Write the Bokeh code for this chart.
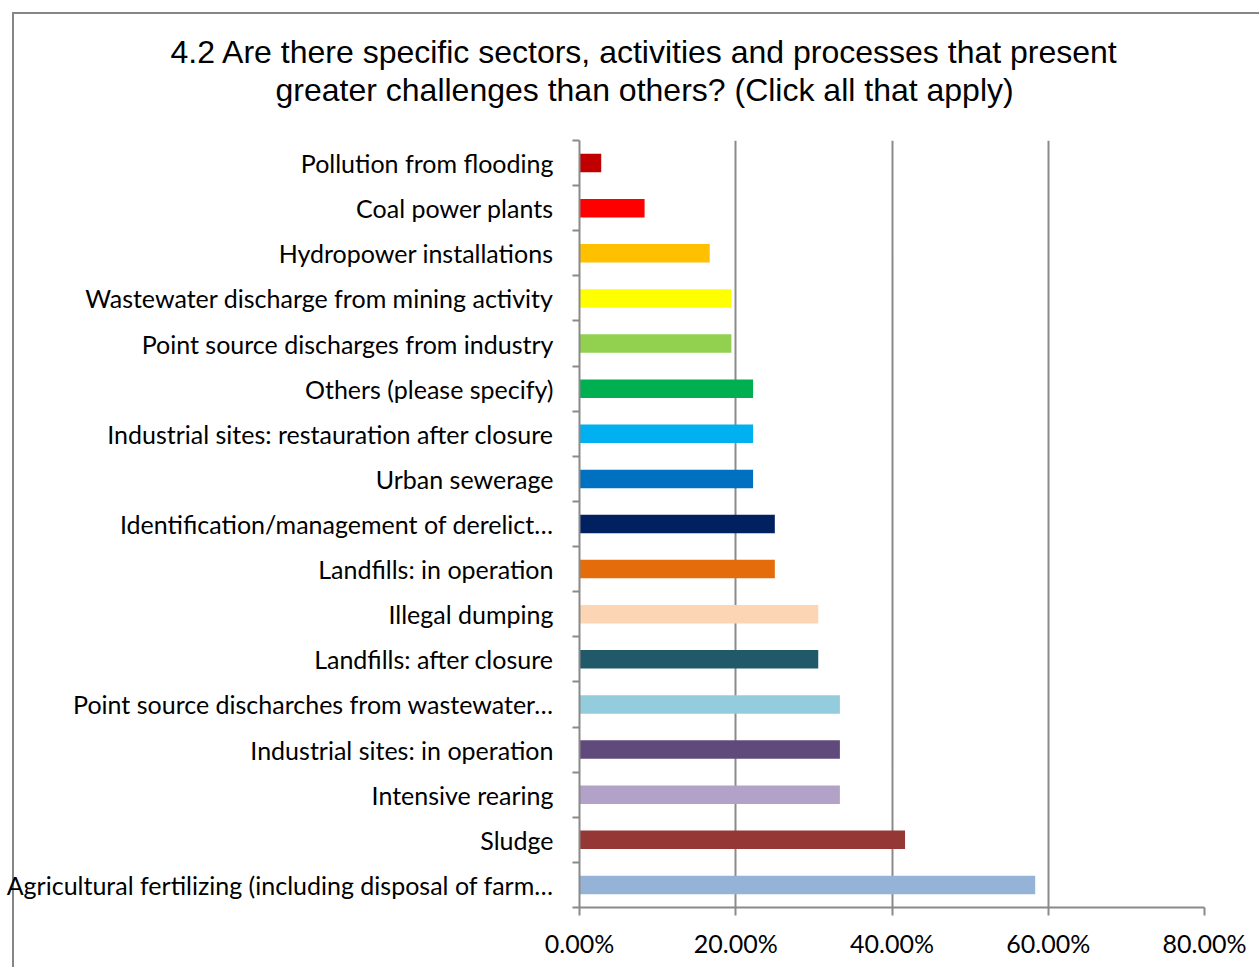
from bokeh.plotting import figure
from bokeh.models import Range1d, FixedTicker, NumeralTickFormatter, Title, ColumnDataSource
from bokeh.embed import file_html
from bokeh.resources import INLINE

title_lines = ["4.2 Are there specific sectors, activities and processes that present",
               "greater challenges than others? (Click all that apply)"]

categories = [
    "Pollution from flooding",
    "Coal power plants",
    "Hydropower installations",
    "Wastewater discharge from mining activity",
    "Point source discharges from industry",
    "Others (please specify)",
    "Industrial sites: restauration after closure",
    "Urban sewerage",
    "Identification/management of derelict\u2026",
    "Landfills: in operation",
    "Illegal dumping",
    "Landfills: after closure",
    "Point source discharches from wastewater\u2026",
    "Industrial sites: in operation",
    "Intensive rearing",
    "Sludge",
    "Agricultural fertilizing (including disposal of farm\u2026",
]
values = [0.0278, 0.0833, 0.1667, 0.1944, 0.1944, 0.2222, 0.2222, 0.2222,
          0.25, 0.25, 0.3056, 0.3056, 0.3333, 0.3333, 0.3333, 0.4167, 0.5833]
colors = ["#C00000", "#FF0000", "#FFC000", "#FFFF00", "#92D050", "#00B050",
          "#00B0F0", "#0070C0", "#002060", "#E46C0A", "#FCD5B5", "#215968",
          "#93CDDD", "#604A7B", "#B3A2C7", "#953735", "#95B3D7"]
x_ticks = [0.0, 0.2, 0.4, 0.6, 0.8]

n = len(categories)
idx = list(range(n))
src = ColumnDataSource(dict(y=idx, v=values, c=colors))

LABEL_FONT = "Lato"
GRAY = "#8a8a8a"

p = figure(width=1259, height=967, output_backend="svg", toolbar_location=None,
           x_range=Range1d(0, 0.8), y_range=Range1d(n - 0.5, -0.5),
           min_border_left=579, min_border_right=55, min_border_top=140,
           min_border_bottom=60, title=None)
p.border_fill_color = None
p.outline_line_color = None
p.styles = {
    "background": "linear-gradient(#868686,#868686) 12px 12px / 2px 100% no-repeat, "
                  "linear-gradient(#868686,#868686) 12px 12px / 100% 2px no-repeat, white"
}

p.hbar(y="y", right="v", left=0, height=0.41, fill_color="c", line_color=None, source=src)

# x axis
p.xaxis.ticker = FixedTicker(ticks=x_ticks)
p.xaxis.formatter = NumeralTickFormatter(format="0.00%")
p.xaxis.axis_line_color = GRAY
p.xaxis.axis_line_width = 2
p.xaxis.major_tick_line_color = GRAY
p.xaxis.major_tick_line_width = 2
p.xaxis.major_tick_out = 8
p.xaxis.major_tick_in = 0
p.xaxis.minor_tick_line_color = None
p.xaxis.major_label_text_font = LABEL_FONT
p.xaxis.major_label_text_font_size = "25px"
p.xaxis.major_label_text_color = "black"
p.xaxis.major_label_standoff = 12

p.xgrid.ticker = FixedTicker(ticks=x_ticks)
p.xgrid.grid_line_color = GRAY
p.xgrid.grid_line_width = 2
p.ygrid.grid_line_color = None

# y axis: labels at centers, tick marks at category boundaries
p.yaxis.ticker = FixedTicker(ticks=idx, minor_ticks=[i - 0.5 for i in range(n + 1)])
p.yaxis.major_label_overrides = {i: c for i, c in enumerate(categories)}
p.yaxis.axis_line_color = GRAY
p.yaxis.axis_line_width = 2
p.yaxis.major_tick_line_color = None
p.yaxis.major_tick_out = 0
p.yaxis.major_tick_in = 0
p.yaxis.minor_tick_line_color = GRAY
p.yaxis.minor_tick_line_width = 2
p.yaxis.minor_tick_out = 7
p.yaxis.minor_tick_in = 0
p.yaxis.major_label_text_font = LABEL_FONT
p.yaxis.major_label_text_font_size = "25px"
p.yaxis.major_label_text_color = "black"
p.yaxis.major_label_standoff = 19

# title: spacer + two lines (first added is closest to the frame)
p.add_layout(Title(text=" ", text_font_size="2px", standoff=29), "above")
for line, off in zip(reversed(title_lines), [-304, -409]):
    p.add_layout(Title(text=line, align="left", offset=off, standoff=0,
                       vertical_align="bottom",
                       text_font="Liberation Sans", text_font_size="32px",
                       text_font_style="normal", text_color="black"), "above")

open("out.html", "w").write(file_html(p, INLINE))
